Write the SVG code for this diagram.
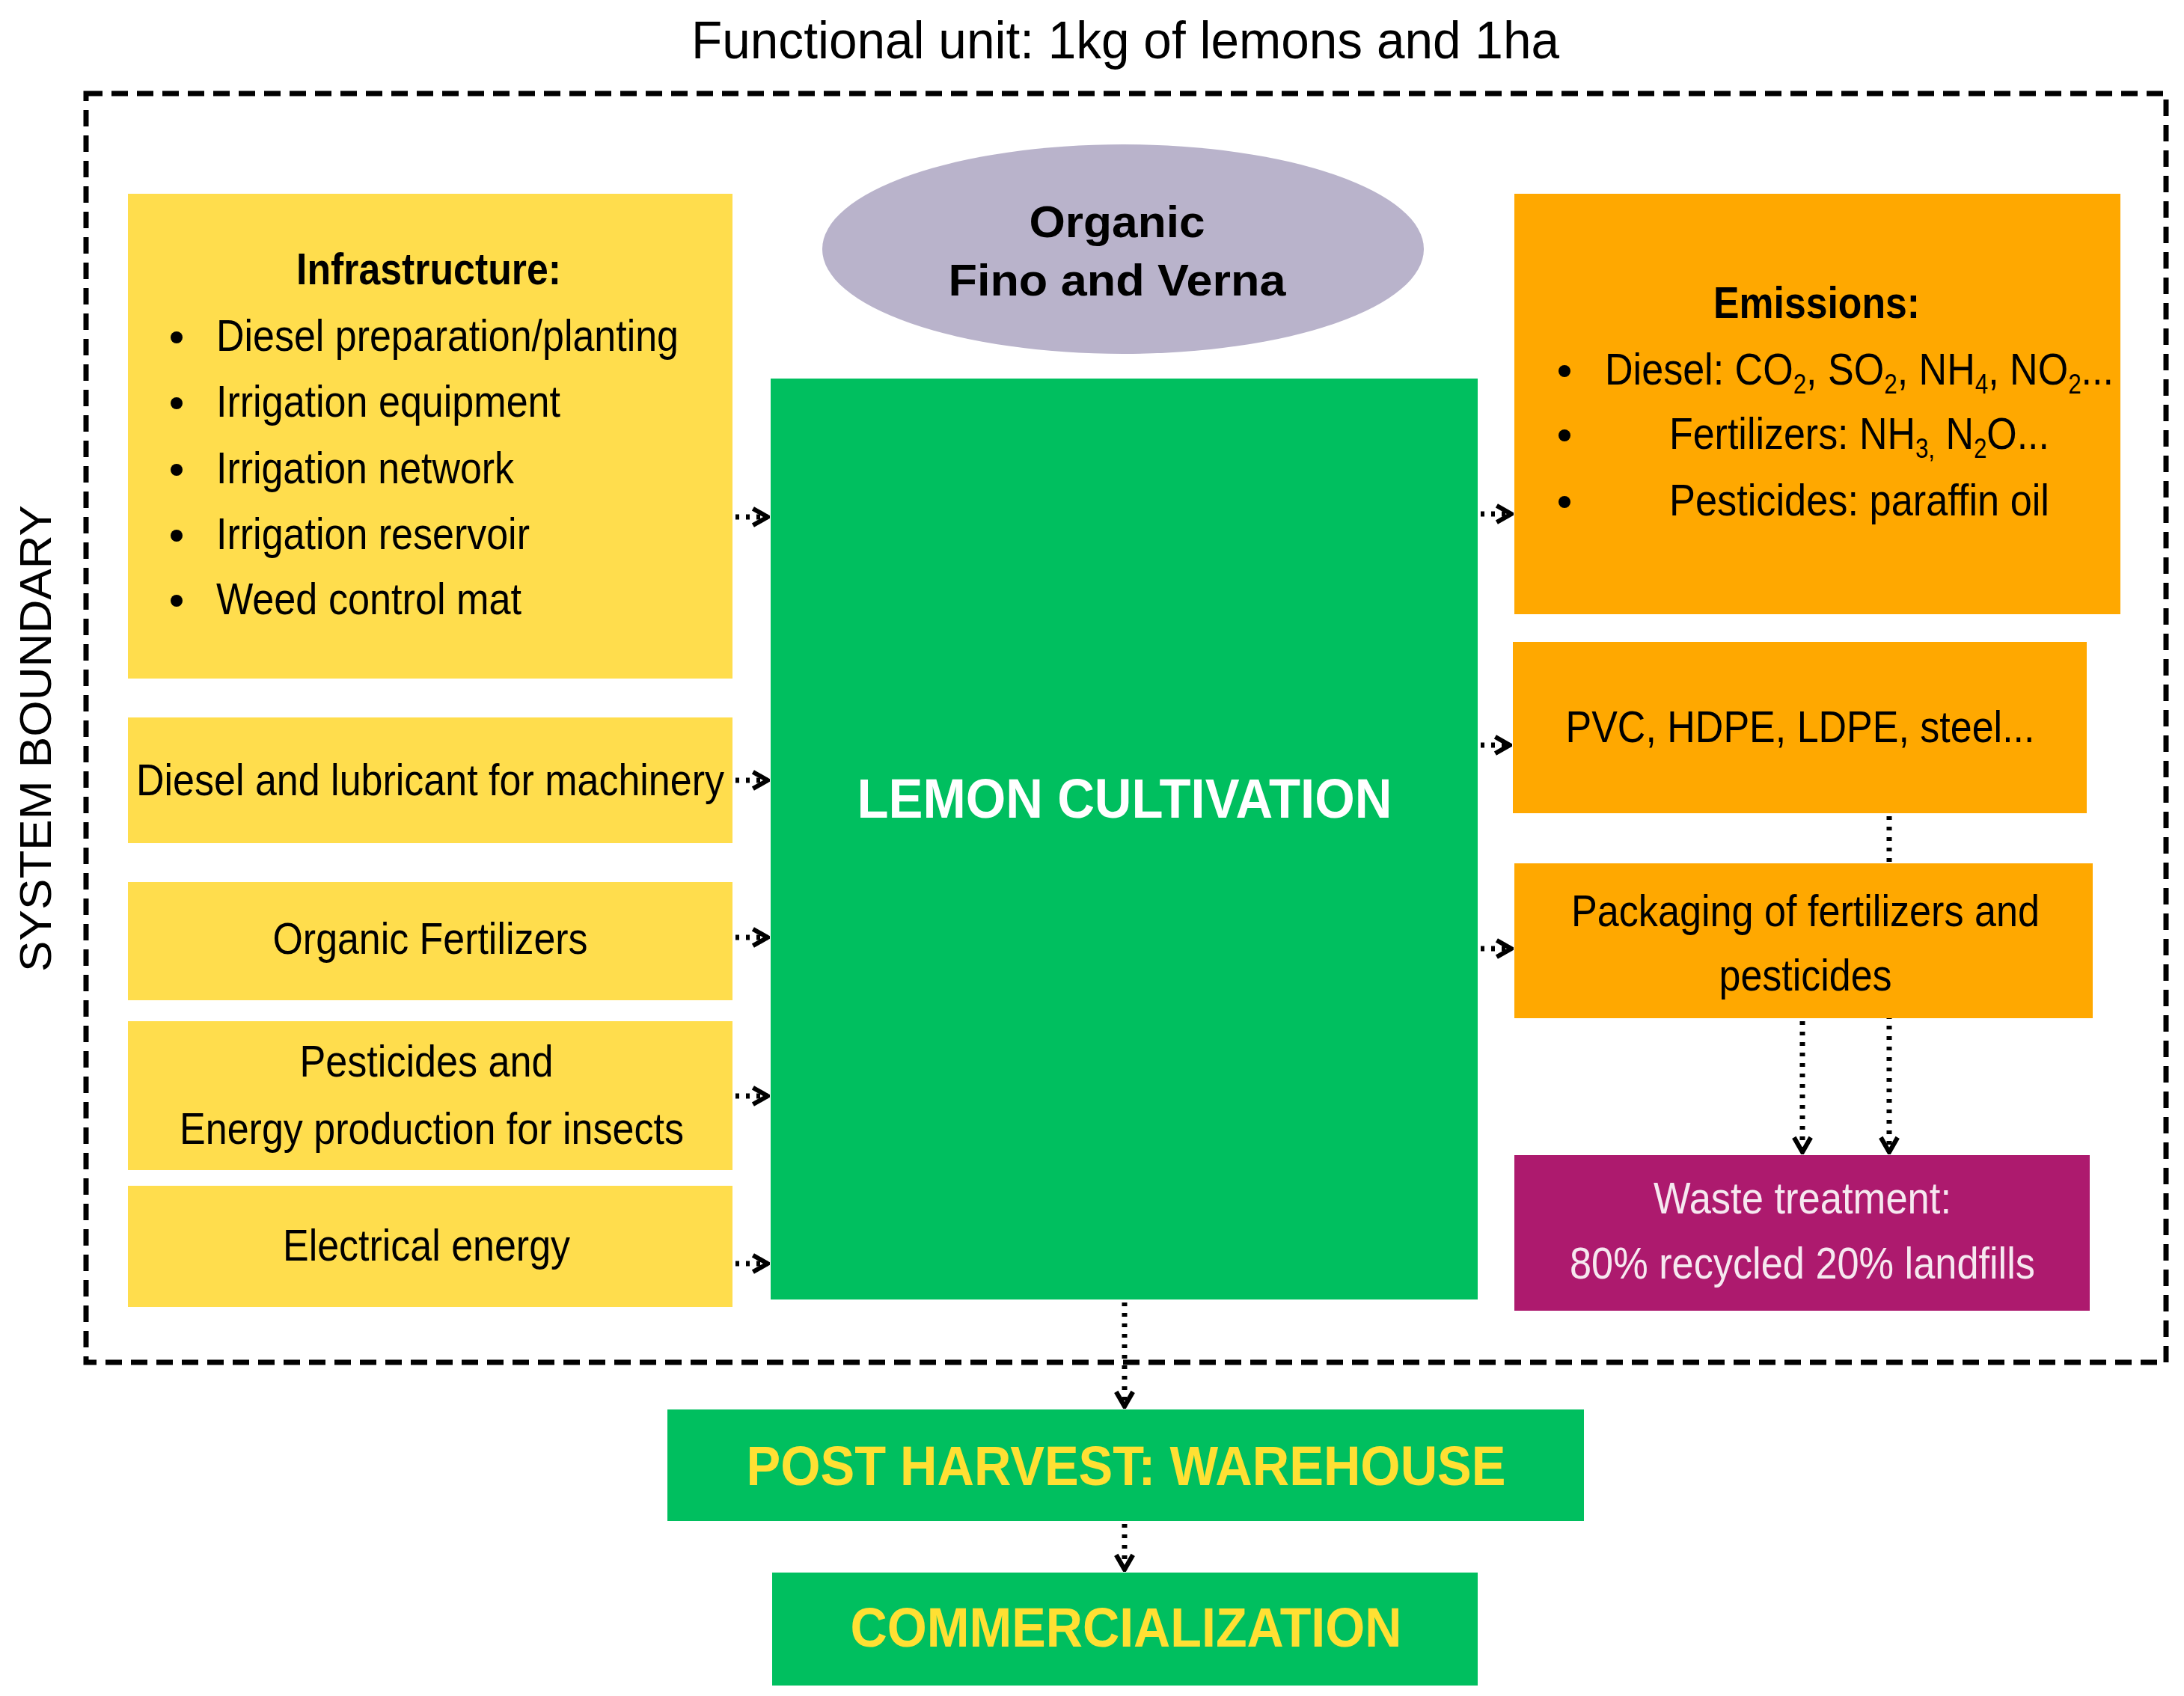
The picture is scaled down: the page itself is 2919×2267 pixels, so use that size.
<svg xmlns="http://www.w3.org/2000/svg" width="2919" height="2267" viewBox="0 0 2919 2267">
<style>
text{font-family:"Liberation Sans",Arial,sans-serif;font-size:60px;fill:#000}
.b{font-weight:bold}
.m{text-anchor:middle}
.y{fill:#FFDD4D}
.o{fill:#FFA800}
.c{stroke:#000;stroke-width:7;stroke-dasharray:5 9;fill:none;marker-end:url(#ah)}
.s{font-size:36px}
</style>
<defs>
<marker id="ah" viewBox="0 0 10 10" refX="9" refY="5" markerWidth="4" markerHeight="4" orient="auto" markerUnits="strokeWidth">
<path d="M2,1 L9,5 L2,9" fill="none" stroke="#000" stroke-width="2.2"/>
</marker>
</defs>
<rect width="2919" height="2267" fill="#fff"/>
<text class="m" x="1504" y="78" textLength="1160" lengthAdjust="spacingAndGlyphs" style="font-size:70px">Functional unit: 1kg of lemons and 1ha</text>
<rect x="115" y="125" width="2780" height="1696" fill="none" stroke="#000" stroke-width="7" stroke-dasharray="22 12"/>
<text transform="translate(68,987) rotate(-90)" class="m" textLength="624" lengthAdjust="spacingAndGlyphs">SYSTEM BOUNDARY</text>

<g id="connectors">
<path class="c" d="M983,691 H1026"/>
<path class="c" d="M983,1043 H1026"/>
<path class="c" d="M983,1253 H1026"/>
<path class="c" d="M983,1465 H1026"/>
<path class="c" d="M983,1689 H1026"/>
<path class="c" d="M1979,687 H2020"/>
<path class="c" d="M1979,996 H2018"/>
<path class="c" d="M1979,1268 H2020"/>
<path class="c" d="M2525,1091 V1540"/>
<path class="c" d="M2409,1365 V1540"/>
<path class="c" d="M1503,1741 V1880"/>
<path class="c" d="M1503,2037 V2098"/>
</g>

<g id="infrastructure">
<rect class="y" x="171" y="259" width="808" height="648"/>
<text class="m b" x="573" y="380" textLength="354" lengthAdjust="spacingAndGlyphs">Infrastructure:</text>
<circle cx="236" cy="451" r="8"/><text x="289" y="469" textLength="618" lengthAdjust="spacingAndGlyphs">Diesel preparation/planting</text>
<circle cx="236" cy="539" r="8"/><text x="289" y="557" textLength="460" lengthAdjust="spacingAndGlyphs">Irrigation equipment</text>
<circle cx="236" cy="628" r="8"/><text x="289" y="646" textLength="398" lengthAdjust="spacingAndGlyphs">Irrigation network</text>
<circle cx="236" cy="716" r="8"/><text x="289" y="734" textLength="419" lengthAdjust="spacingAndGlyphs">Irrigation reservoir</text>
<circle cx="236" cy="803" r="8"/><text x="289" y="821" textLength="408" lengthAdjust="spacingAndGlyphs">Weed control mat</text>
</g>
<g id="diesel">
<rect class="y" x="171" y="959" width="808" height="168"/>
<text class="m" x="575" y="1063" textLength="786" lengthAdjust="spacingAndGlyphs">Diesel and lubricant for machinery</text>
</g>
<g id="fertilizers">
<rect class="y" x="171" y="1179" width="808" height="158"/>
<text class="m" x="575" y="1275" textLength="421" lengthAdjust="spacingAndGlyphs">Organic Fertilizers</text>
</g>
<g id="pesticides">
<rect class="y" x="171" y="1365" width="808" height="199"/>
<text class="m" x="570" y="1439" textLength="339" lengthAdjust="spacingAndGlyphs">Pesticides and</text>
<text class="m" x="577" y="1529" textLength="674" lengthAdjust="spacingAndGlyphs">Energy production for insects</text>
</g>
<g id="electrical">
<rect class="y" x="171" y="1585" width="808" height="162"/>
<text class="m" x="570" y="1685" textLength="384" lengthAdjust="spacingAndGlyphs">Electrical energy</text>
</g>
<g id="organic">
<ellipse cx="1501" cy="333" rx="402" ry="140" fill="#B9B3CB"/>
<text class="m b" x="1493" y="317" textLength="235" lengthAdjust="spacingAndGlyphs">Organic</text>
<text class="m b" x="1493" y="395" textLength="451" lengthAdjust="spacingAndGlyphs">Fino and Verna</text>
</g>
<g id="lemon">
<rect x="1030" y="506" width="945" height="1231" fill="#00BF5F"/>
<text class="m b" x="1503" y="1093" style="font-size:74px;fill:#fff" textLength="715" lengthAdjust="spacingAndGlyphs">LEMON CULTIVATION</text>
</g>
<g id="emissions">
<rect class="o" x="2024" y="259" width="810" height="562"/>
<text class="m b" x="2428" y="425" textLength="276" lengthAdjust="spacingAndGlyphs">Emissions:</text>
<circle cx="2091" cy="496" r="8"/><text x="2145" y="514" textLength="680" lengthAdjust="spacingAndGlyphs">Diesel: CO<tspan class="s" dy="12">2</tspan><tspan dy="-12">, SO</tspan><tspan class="s" dy="12">2</tspan><tspan dy="-12">, NH</tspan><tspan class="s" dy="12">4</tspan><tspan dy="-12">, NO</tspan><tspan class="s" dy="12">2</tspan><tspan dy="-12">...</tspan></text>
<circle cx="2091" cy="582" r="8"/><text x="2231" y="600" textLength="508" lengthAdjust="spacingAndGlyphs">Fertilizers: NH<tspan class="s" dy="12">3,</tspan><tspan dy="-12"> N</tspan><tspan class="s" dy="12">2</tspan><tspan dy="-12">O...</tspan></text>
<circle cx="2091" cy="671" r="8"/><text x="2231" y="689" textLength="508" lengthAdjust="spacingAndGlyphs">Pesticides: paraffin oil</text>
</g>
<g id="pvc">
<rect class="o" x="2022" y="858" width="767" height="229"/>
<text class="m" x="2406" y="992" textLength="627" lengthAdjust="spacingAndGlyphs">PVC, HDPE, LDPE, steel...</text>
</g>
<g id="packaging">
<rect class="o" x="2024" y="1154" width="773" height="207"/>
<text class="m" x="2413" y="1238" textLength="626" lengthAdjust="spacingAndGlyphs">Packaging of fertilizers and</text>
<text class="m" x="2413" y="1324" textLength="231" lengthAdjust="spacingAndGlyphs">pesticides</text>
</g>
<g id="waste">
<rect x="2024" y="1544" width="769" height="208" fill="#AD1A6E"/>
<text class="m" x="2409" y="1622" style="fill:#F6E8F0" textLength="398" lengthAdjust="spacingAndGlyphs">Waste treatment:</text>
<text class="m" x="2409" y="1709" style="fill:#F6E8F0" textLength="622" lengthAdjust="spacingAndGlyphs">80% recycled 20% landfills</text>
</g>
<g id="postharvest">
<rect x="892" y="1884" width="1225" height="149" fill="#00BF5F"/>
<text class="m b" x="1505" y="1985" style="font-size:74px;fill:#FFE033" textLength="1015" lengthAdjust="spacingAndGlyphs">POST HARVEST: WAREHOUSE</text>
</g>
<g id="commercialization">
<rect x="1032" y="2102" width="943" height="151" fill="#00BF5F"/>
<text class="m b" x="1505" y="2201" style="font-size:74px;fill:#FFE033" textLength="737" lengthAdjust="spacingAndGlyphs">COMMERCIALIZATION</text>
</g>
</svg>
